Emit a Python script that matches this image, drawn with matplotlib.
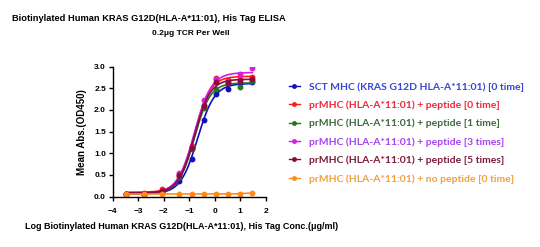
import numpy as np
import matplotlib
matplotlib.use("Agg")
import matplotlib.pyplot as plt

# log10 concentration (ug/ml) of the dilution series
log_conc = [-3.48, -2.78, -2.08, -1.39, -0.91, -0.43, 0.05, 0.52, 1.00, 1.48]

labels = [
    "SCT MHC (KRAS G12D HLA-A*11:01) [0 time]",
    "prMHC (HLA-A*11:01) + peptide [0 time]",
    "prMHC (HLA-A*11:01) + peptide [1 time]",
    "prMHC (HLA-A*11:01) + peptide [3 times]",
    "prMHC (HLA-A*11:01) + peptide [5 times]",
    "prMHC (HLA-A*11:01) + no peptide [0 time]",
]

sct_0 = [0.07, 0.06, 0.10, 0.35, 0.88, 1.78, 2.36, 2.48, 2.62, 2.65]
pep_0 = [0.07, 0.08, 0.17, 0.50, 1.18, 2.12, 2.75, 2.70, 2.72, 2.77]
pep_1 = [0.07, 0.07, 0.12, 0.45, 1.10, 2.05, 2.48, 2.62, 2.52, 2.68]
pep_3 = [0.07, 0.07, 0.13, 0.55, 1.15, 2.22, 2.72, 2.68, 2.82, 2.97]
pep_5 = [0.07, 0.07, 0.12, 0.50, 1.12, 2.10, 2.65, 2.62, 2.66, 2.72]
no_pep = [0.06, 0.06, 0.06, 0.06, 0.06, 0.06, 0.06, 0.06, 0.07, 0.08]

series = [sct_0, pep_0, pep_1, pep_3, pep_5, no_pep]
line_colors = ["#1010c0", "#ff1a1a", "#1f7a1f", "#d41ee0", "#8a0a3c", "#ff8c1a"]
text_colors = ["#3348d6", "#f0283a", "#3d6b3a", "#a444f2", "#7c1c3c", "#f2a03c"]


def fit_4pl(x, y):
    """Rough 4PL fit: grid over logEC50 / hill, linear solve for bottom/top."""
    x = np.asarray(x)
    y = np.asarray(y)
    best = None
    for c in np.linspace(-3.5, 2.5, 241):
        for h in np.linspace(0.3, 3.0, 55):
            f = 1.0 / (1.0 + 10 ** ((c - x) * h))
            A = np.column_stack([np.ones_like(x), f])
            coef, *_ = np.linalg.lstsq(A, y, rcond=None)
            err = np.sum((A @ coef - y) ** 2)
            if best is None or err < best[0]:
                best = (err, c, h, coef)
    _, c, h, coef = best
    return lambda t: coef[0] + coef[1] / (1.0 + 10 ** ((c - t) * h))


fig = plt.figure(figsize=(5.4, 2.47), dpi=100)
ax = fig.add_axes([0.209, 0.204, 0.283, 0.526])

xs = np.linspace(min(log_conc), max(log_conc), 300)
for vals, lc, lab in zip(series, line_colors, labels):
    curve = fit_4pl(log_conc, vals)
    ax.plot(xs, curve(xs), color=lc, lw=1.2)
    ax.plot(log_conc, vals, "o", color=lc, ms=3.2, label=lab)

ax.set_xlim(-4, 2)
ax.set_ylim(0, 3.0)
ax.set_xticks(range(-4, 3))
ax.set_yticks(np.arange(0, 3.01, 0.5))
ax.set_yticklabels([f"{v:.1f}" for v in np.arange(0, 3.01, 0.5)])
for s in ["top", "right"]:
    ax.spines[s].set_visible(False)
for s in ["left", "bottom"]:
    ax.spines[s].set_linewidth(1.0)
ax.tick_params(length=3, width=1.0, labelsize=6, pad=2)
ax.tick_params(axis="x", pad=5)
for t in ax.get_xticklabels() + ax.get_yticklabels():
    t.set_fontweight("bold")
    t.set_family("Liberation Sans")

ax.set_ylabel("Mean Abs.(OD450)", fontsize=7, fontweight="bold",
              family="Liberation Sans", labelpad=5)
fig.text(0.046, 0.085,
         "Log Biotinylated Human KRAS G12D(HLA-A*11:01), His Tag Conc.(\u03bcg/ml)",
         fontsize=6.5, fontweight="bold", family="Liberation Sans",
         ha="left", va="center")
fig.text(0.276, 0.927,
         "Biotinylated Human KRAS G12D(HLA-A*11:01), His Tag ELISA",
         fontsize=6.7, fontweight="bold", family="Liberation Sans",
         ha="center", va="center")
fig.text(0.354, 0.866, "0.2\u03bcg TCR Per Well",
         fontsize=6, fontweight="bold", family="Liberation Sans",
         ha="center", va="center")

leg_handles = [plt.Line2D([], [], color=c, marker="o", ms=2.5, lw=1.0)
               for c in line_colors]
leg = fig.legend(leg_handles, labels, loc="upper left",
                 bbox_to_anchor=(0.528, 0.685), frameon=False,
                 prop={"family": "Lato", "weight": "bold", "size": 7.5},
                 handlelength=1.0, handletextpad=0.9, labelspacing=0.85,
                 borderaxespad=0)
for txt, tc in zip(leg.get_texts(), text_colors):
    txt.set_color(tc)

fig.savefig("out.png", dpi=100)
